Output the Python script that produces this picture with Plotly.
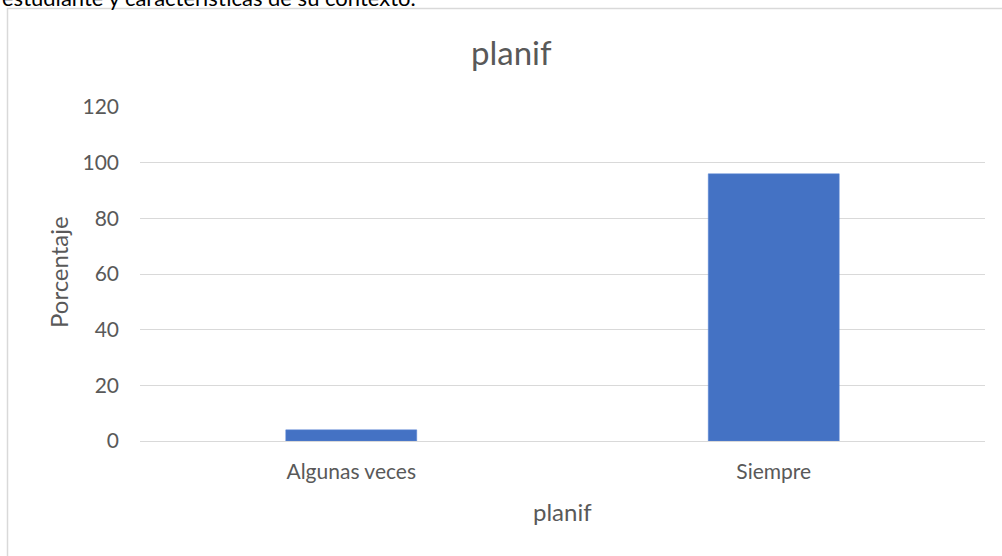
import plotly.graph_objects as go

categories = ["Algunas veces", "Siempre"]
values = [4, 96]
y_ticks = [0, 20, 40, 60, 80, 100, 120]

chart_title = "planif"
x_title = "planif"
y_title = "Porcentaje"
cut_text = "estudiante y características de su contexto."

FONT = "Lato"
GRAY = "#595959"
GRID = "#D9D9D9"

W, H = 1002, 556
L, R, T, B = 140, 17, 107, 115
PW = W - L - R
PH = H - T - B


def px(xp):
    return (xp - L) / PW


def py(yp):
    return (H - B - yp) / PH


fig = go.Figure(
    go.Bar(
        x=categories,
        y=values,
        marker=dict(color="#4472C4", line=dict(color="#5B87D6", width=0.5)),
    )
)

fig.update_layout(
    width=W,
    height=H,
    margin=dict(l=L, r=R, t=T, b=B),
    paper_bgcolor="white",
    plot_bgcolor="white",
    bargap=0.69,
    showlegend=False,
    font=dict(family=FONT, color=GRAY),
)

fig.update_yaxes(
    range=[0, 120],
    tickvals=y_ticks,
    showgrid=True,
    gridcolor=GRID,
    gridwidth=1.3,
    zeroline=False,
    showline=False,
    ticks="",
    ticklabelstandoff=20,
    tickfont=dict(family=FONT, size=21, color=GRAY),
)
fig.update_xaxes(
    showgrid=False,
    showline=True,
    linecolor=GRID,
    linewidth=1.3,
    ticks="",
    ticklabelstandoff=12,
    tickfont=dict(family=FONT, size=21, color=GRAY),
)

annotations = [
    dict(text=chart_title, x=px(511), y=py(52), xref="paper", yref="paper",
         xanchor="center", yanchor="middle", showarrow=False,
         font=dict(family=FONT, size=33, color=GRAY)),
    dict(text=x_title, x=px(562), y=py(511), xref="paper", yref="paper",
         xanchor="center", yanchor="middle", showarrow=False,
         font=dict(family=FONT, size=24, color=GRAY)),
    dict(text=y_title, x=px(58), y=py(272), xref="paper", yref="paper",
         xanchor="center", yanchor="middle", showarrow=False, textangle=-90,
         font=dict(family=FONT, size=24, color=GRAY)),
    dict(text=cut_text, x=px(0), y=py(13), xref="paper", yref="paper",
         xanchor="left", yanchor="bottom", showarrow=False,
         font=dict(family=FONT, size=22, color="black")),
]
fig.update_layout(annotations=annotations)

fig.add_shape(
    type="rect", xref="paper", yref="paper",
    x0=px(7.5), x1=px(1015), y0=py(8.5), y1=py(565),
    line=dict(color=GRID, width=1.5), fillcolor="rgba(0,0,0,0)", layer="below",
)

fig.write_html(
    "out.html",
    config={"displayModeBar": False},
    post_script="document.body.style.margin='0';document.body.style.overflow='hidden';",
)
